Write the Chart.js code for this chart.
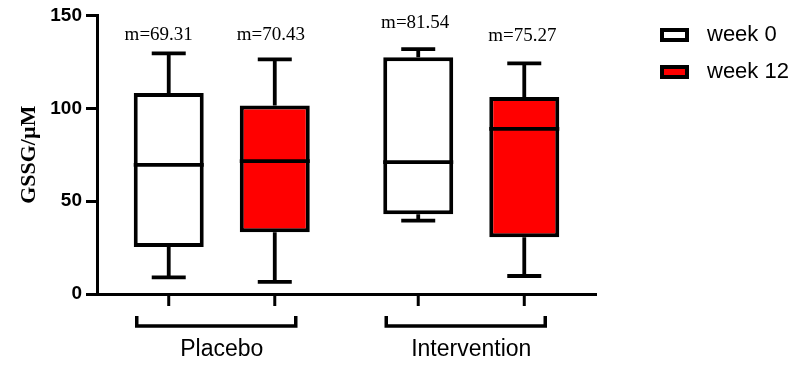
<!DOCTYPE html>
<html>
<head>
<meta charset="utf-8">
<script src="https://cdn.jsdelivr.net/npm/chart.js@4.4.0/dist/chart.umd.min.js"></script>
<style>
  body { margin: 0; background: #fff; }
</style>
</head>
<body>
<canvas id="boxcanvas" width="800" height="365"></canvas>
<script>
// groups on the x axis
const groups = ['Placebo', 'Intervention'];
const seriesNames = ['week 0', 'week 12'];
const yTicks = [0, 50, 100, 150];

// box plot values
const week0Min = [9, 39.5];
const week0Q1 = [25.3, 43];
const week0Median = [69.5, 71];
const week0Q3 = [108.2, 127.5];
const week0Max = [129.6, 131.8];
const week0Means = [69.31, 81.54];

const week12Min = [6.5, 9.7];
const week12Q1 = [33.3, 30.6];
const week12Median = [71.5, 88.9];
const week12Q3 = [101.5, 106];
const week12Max = [126.3, 124.2];
const week12Means = [70.43, 75.27];

// px shift of the "m=" labels from the whisker cap
const labelOffsets = [[18, 26], [24, 27]];
const labelShiftX = [[-10, -3], [-4, -2]];

function makeBoxes(q1, q3) {
    return q1.map(function(v, i) { return [v, q3[i]]; });
}

const boxPlugin = {
    id: 'boxExtras',
    afterDatasetsDraw(chart) {
        let ctx = chart.ctx;
        let yScale = chart.scales.y;
        let xScale = chart.scales.x;
        let bottom = chart.chartArea.bottom;
        ctx.save();
        ctx.strokeStyle = '#000';
        ctx.lineCap = 'butt';

        chart.data.datasets.forEach(function(ds, di) {
            let meta = chart.getDatasetMeta(di);
            meta.data.forEach(function(bar, i) {
                let st = ds.stats;
                let half = bar.width / 2;
                let pMin = yScale.getPixelForValue(st.min[i]);
                let pMax = yScale.getPixelForValue(st.max[i]);
                let pQ1 = yScale.getPixelForValue(st.q1[i]);
                let pQ3 = yScale.getPixelForValue(st.q3[i]);
                let pMed = yScale.getPixelForValue(st.median[i]);
                ctx.lineWidth = 3.8;
                ctx.beginPath();
                // whiskers
                ctx.moveTo(bar.x, pQ3); ctx.lineTo(bar.x, pMax);
                ctx.moveTo(bar.x - 17, pMax); ctx.lineTo(bar.x + 17, pMax);
                ctx.moveTo(bar.x, pQ1); ctx.lineTo(bar.x, pMin);
                ctx.moveTo(bar.x - 17, pMin); ctx.lineTo(bar.x + 17, pMin);
                // median
                ctx.moveTo(bar.x - half, pMed); ctx.lineTo(bar.x + half, pMed);
                ctx.stroke();

                // tick under the x axis
                ctx.lineWidth = 3;
                ctx.beginPath();
                ctx.moveTo(bar.x, bottom + 1); ctx.lineTo(bar.x, bottom + 12);
                ctx.stroke();

                // mean label
                ctx.fillStyle = '#000';
                ctx.font = '19px "Liberation Serif", "Times New Roman", serif';
                ctx.textAlign = 'center';
                ctx.textBaseline = 'middle';
                ctx.fillText('m=' + st.means[i].toFixed(2), bar.x + labelShiftX[di][i], pMax - labelOffsets[di][i]);
            });
        });

        // group brackets
        ctx.lineWidth = 3.5;
        groups.forEach(function(g, i) {
            let cx = xScale.getPixelForValue(i);
            ctx.beginPath();
            ctx.moveTo(cx - 85, bottom + 22);
            ctx.lineTo(cx - 85, bottom + 32);
            ctx.lineTo(cx + 74, bottom + 32);
            ctx.lineTo(cx + 74, bottom + 22);
            ctx.stroke();
        });

        // legend
        chart.data.datasets.forEach(function(ds, di) {
            let ly = 35 + di * 37;
            ctx.fillStyle = ds.backgroundColor;
            ctx.fillRect(662, ly - 5, 25, 10);
            ctx.lineWidth = 4;
            ctx.strokeRect(662, ly - 5, 25, 10);
            ctx.fillStyle = '#000';
            ctx.font = '22px "Liberation Sans", Arial, sans-serif';
            ctx.textAlign = 'left';
            ctx.textBaseline = 'middle';
            ctx.fillText(ds.label, 707, ly);
        });
        ctx.restore();
    }
};

let boxCanvas = document.getElementById('boxcanvas').getContext('2d');

let boxChart = new Chart(boxCanvas, {
    type: 'bar',
    data: {
        labels: groups,
        datasets: [{
            label: seriesNames[0],
            data: makeBoxes(week0Q1, week0Q3),
            stats: { min: week0Min, q1: week0Q1, median: week0Median, q3: week0Q3, max: week0Max, means: week0Means },
            backgroundColor: '#ffffff',
            borderColor: '#000000',
            borderWidth: 4,
            borderSkipped: false,
            categoryPercentage: 0.85,
            barPercentage: 0.66
        }, {
            label: seriesNames[1],
            data: makeBoxes(week12Q1, week12Q3),
            stats: { min: week12Min, q1: week12Q1, median: week12Median, q3: week12Q3, max: week12Max, means: week12Means },
            backgroundColor: '#ff0000',
            borderColor: '#000000',
            borderWidth: 4,
            borderSkipped: false,
            categoryPercentage: 0.85,
            barPercentage: 0.66
        }]
    },
    options: {
        responsive: false,
        animation: false,
        layout: { padding: { left: 0, right: 204, top: 15, bottom: 0 } },
        plugins: {
            legend: { display: false },
            tooltip: { enabled: false }
        },
        scales: {
            x: {
                grid: { display: false, drawTicks: false },
                border: { display: true, color: '#000', width: 3 },
                ticks: {
                    color: '#000',
                    padding: 42,
                    font: { family: '"Liberation Sans", Arial, sans-serif', size: 23 }
                },
                afterFit: function(scale) { scale.height = 71; }
            },
            y: {
                min: 0,
                max: 150,
                afterBuildTicks: function(scale) {
                    scale.ticks = yTicks.map(function(v) { return { value: v }; });
                },
                grid: { drawOnChartArea: false, drawTicks: true, tickLength: 11, color: '#000', lineWidth: 3 },
                border: { display: true, color: '#000', width: 3 },
                ticks: {
                    color: '#000',
                    padding: 4,
                    font: { family: '"Liberation Sans", Arial, sans-serif', size: 19, weight: 'bold' }
                },
                title: {
                    display: true,
                    text: 'GSSG/µM',
                    color: '#000',
                    padding: { top: 16, bottom: 0 },
                    font: { family: '"Liberation Serif", "Times New Roman", serif', size: 22, weight: 'bold' }
                },
                afterFit: function(scale) { scale.width = 97; }
            }
        }
    },
    plugins: [boxPlugin]
});
</script>
</body>
</html>
